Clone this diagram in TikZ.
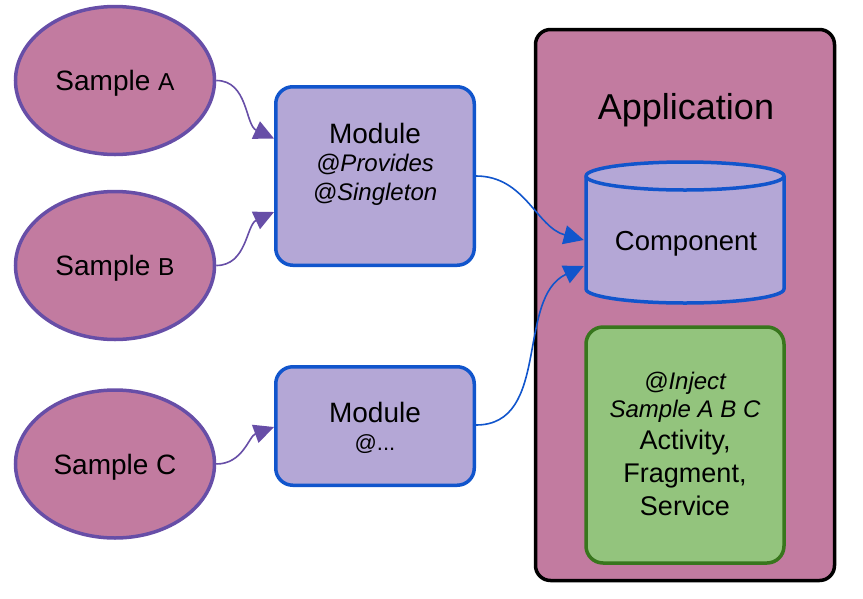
\documentclass[tikz,border=0pt]{standalone}
\usepackage{fontspec}
\setmainfont{Liberation Sans}
\usetikzlibrary{arrows.meta,shapes.geometric}
\definecolor{pinkfill}{HTML}{C27BA0}
\definecolor{purpleline}{HTML}{674EA7}
\definecolor{lavfill}{HTML}{B4A7D6}
\definecolor{blueline}{HTML}{1155CC}
\definecolor{greenfill}{HTML}{93C47D}
\definecolor{greenline}{HTML}{38761D}
\begin{document}
\begin{tikzpicture}[x=1pt,y=-1pt,
  sample/.style={ellipse, draw=purpleline, fill=pinkfill, line width=3.5pt,
    minimum width=199pt, minimum height=148pt, inner sep=0pt, text depth=0pt,
    font=\fontsize{28}{32}\selectfont},
  modbox/.style={rectangle, rounded corners=17pt, draw=blueline, fill=lavfill,
    line width=3.5pt, minimum width=198.5pt, inner sep=0pt},
  txt/.style={align=center, inner sep=0pt},
  parrow/.style={draw=purpleline, line width=1.6pt,
    -{Triangle[length=20pt,width=19pt]}},
  barrow/.style={draw=blueline, line width=1.6pt,
    -{Triangle[length=20pt,width=19pt]}}
]
\useasboundingbox (0,0) rectangle (863,598);

% samples
\node[sample] (sa) at (115,80.5) {Sample {\fontsize{24.5}{26}\selectfont A}};
\node[sample] (sb) at (115,265.5) {Sample {\fontsize{24.5}{26}\selectfont B}};
\node[sample] (sc) at (115,464) {Sample C};

% modules
\node[modbox, minimum height=178.5pt] (m1) at (375,176) {};
\node[txt, font=\fontsize{24}{28.5}\selectfont\itshape] (m1t) at (375,164)
  {{\upshape\fontsize{28}{28.5}\selectfont Module}\\@Provides\\@Singleton};
\node[modbox, minimum height=118.5pt] (m2) at (375,426) {};
\node[txt, font=\fontsize{22}{28}\selectfont] (m2t) at (375,428)
  {{\fontsize{28}{28}\selectfont Module}\\@...};

% application
\node[rectangle, rounded corners=15pt, draw=black, fill=pinkfill, line width=3.5pt,
  minimum width=299pt, minimum height=551pt] (app) at (685,305) {};
\node[txt, font=\fontsize{36}{40}\selectfont] (appt) at (686,110) {Application};

% component cylinder
\node[minimum width=202pt, minimum height=145pt, inner sep=0pt] (comp) at (685,232.5) {};
\filldraw[draw=blueline, fill=lavfill, line width=3.5pt, line join=round]
  (586,176) -- (586,289)
  arc[start angle=180, end angle=360, x radius=99pt, y radius=14pt]
  -- (784,176)
  arc[start angle=0, end angle=180, x radius=99pt, y radius=14pt] -- cycle;
\draw[draw=blueline, line width=3.5pt]
  (586,176) arc[start angle=180, end angle=360, x radius=99pt, y radius=14pt];
\node[txt, text depth=0pt, font=\fontsize{27.5}{32}\selectfont] (compt) at (686,241) {Component};

% green box
\node[rectangle, rounded corners=17pt, draw=greenline, fill=greenfill, line width=3.5pt,
  minimum width=198pt, minimum height=236pt] (act) at (685,445) {};
\node[txt, font=\fontsize{27}{33}\selectfont] (actt) at (685,444)
  {{\itshape\fontsize{24}{28}\selectfont @Inject}\\[-5pt]
   {\itshape\fontsize{24}{28}\selectfont Sample A B C}\\[-1pt]
   Activity,\\Fragment,\\Service};

% connectors
\draw[parrow] (sa.east) to[out=0,in=155] ([yshift=37.5pt]m1.west);
\draw[parrow] (sb.east) to[out=0,in=205] ([yshift=-36pt]m1.west);
\draw[parrow] (sc.east) to[out=0,in=200] ([yshift=-1pt]m2.west);
\draw[barrow] (m1.east) to[out=0,in=165] ([yshift=-7.5pt]comp.west);
\draw[barrow] ([yshift=1pt]m2.east) to[out=0,in=205] ([yshift=-33.5pt]comp.west);
\end{tikzpicture}
\end{document}
